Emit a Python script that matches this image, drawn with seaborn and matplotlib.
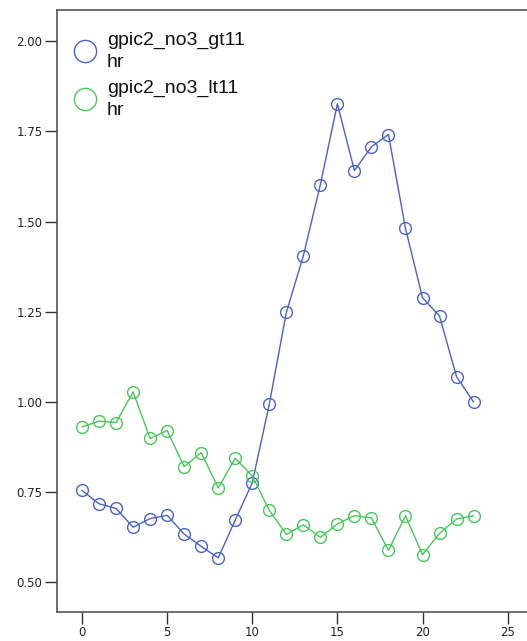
import numpy as np
import pandas as pd
import matplotlib
matplotlib.use("Agg")
import matplotlib.pyplot as plt
from matplotlib.lines import Line2D
import seaborn as sns

hours = list(range(24))
gt11 = [0.755, 0.718, 0.705, 0.653, 0.677, 0.686, 0.634, 0.600, 0.568, 0.673,
        0.776, 0.994, 1.248, 1.405, 1.602, 1.826, 1.641, 1.707, 1.741, 1.481,
        1.289, 1.238, 1.070, 1.000]
lt11 = [0.931, 0.947, 0.943, 1.028, 0.899, 0.921, 0.821, 0.860, 0.762, 0.844,
        0.795, 0.700, 0.633, 0.660, 0.625, 0.662, 0.685, 0.679, 0.589, 0.685,
        0.577, 0.636, 0.676, 0.685]
series_names = ["gpic2_no3_gt11\nhr", "gpic2_no3_lt11\nhr"]
colors = ["#4a62c6", "#46c858"]
y_ticks = [0.50, 0.75, 1.00, 1.25, 1.50, 1.75, 2.00]
x_ticks = [0, 5, 10, 15, 20, 25]

df = pd.DataFrame({
    "hour": hours * 2,
    "value": gt11 + lt11,
    "series": [series_names[0]] * 24 + [series_names[1]] * 24,
})

sns.set_style("white")
plt.rcParams["font.family"] = ["Liberation Sans", "DejaVu Sans"]

fig = plt.figure(figsize=(5.27, 6.41), dpi=100)
ax = fig.add_axes([57 / 527, 29.3 / 641, 1 - 57 / 527 + 0.002, (611.7 - 10) / 641])

sns.lineplot(data=df, x="hour", y="value", hue="series", palette=colors,
             marker="o", markersize=8.5, markerfacecolor="none",
             markeredgewidth=1.0, linewidth=1.0, legend=False, ax=ax)
for line, c in zip(ax.get_lines(), colors):
    line.set_markeredgecolor(c)

ax.set_xlim(-1.47, 26.2)
ax.set_ylim(0.419, 2.086)
ax.set_xticks(x_ticks)
ax.set_yticks(y_ticks)
ax.set_yticklabels([f"{v:.2f}" for v in y_ticks])
ax.set_xlabel("")
ax.set_ylabel("")

for side in ["left", "top", "bottom"]:
    ax.spines[side].set_color("#555555")
    ax.spines[side].set_linewidth(1.2)
ax.spines["right"].set_visible(False)

ax.tick_params(axis="both", which="major", direction="out", length=8.5,
               width=1.0, color="#333333", labelsize=8.5, labelcolor="#222222",
               left=True, bottom=True, pad=2)
for lbl in ax.get_xticklabels() + ax.get_yticklabels():
    lbl.set_fontfamily(["DejaVu Sans"])

handles = [Line2D([], [], linestyle="none", marker="o", markersize=16,
                  markerfacecolor="none", markeredgecolor=c, markeredgewidth=1.0)
           for c in colors]
leg = ax.legend(handles, series_names, loc="upper left",
                bbox_to_anchor=(0.023, 0.977), frameon=False, fontsize=14,
                handletextpad=0.6, labelspacing=0.45, handlelength=1.0,
                borderaxespad=0.0)
for t in leg.get_texts():
    t.set_linespacing(1.4)
    t.set_color("#111111")

fig.savefig("out.png", dpi=100)
